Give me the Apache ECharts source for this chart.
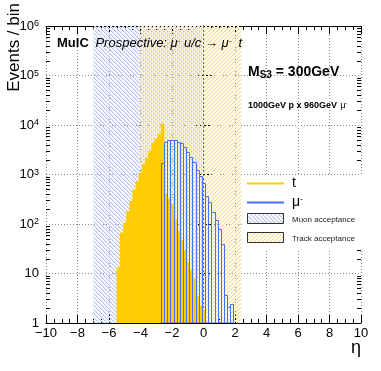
<!DOCTYPE html>
<html lang="en">
<head>
<meta charset="UTF-8">
<title>MuIC S3 eta</title>
<script src="https://cdn.jsdelivr.net/npm/echarts@6/dist/echarts.min.js"></script>
<style>
    html, body { margin: 0; padding: 0; background: #fff; }
    #main { width: 381px; height: 371px; }
</style>
</head>
<body>
<div id="main"></div>
<script>
    // histogram contents, 0.2 wide bins in eta
    var binWidth = 0.2;
    var topFirstEdge = -5.5;
    var topCounts = [13, 66, 105, 180, 290, 490, 720, 1070, 1580, 2140, 2950, 4300, 5250, 6600, 10500,
                     400, 320, 250, 125, 70, 47, 29, 17, 12, 7.8, 3.5, 2.2, 1.8];
    var muFirstEdge = -2.7;
    var muCounts = [1730, 4600, 4900, 5000, 4900, 4600, 4300, 3600, 2900, 2250, 1750, 1250,
                    950, 670, 370, 278, 174, 120, 80, 40, 3.7, 2.1, 2.4];
    // acceptance bands
    var muonAcceptance = [-7, 0];
    var trackAcceptance = [-4, 2.4];
    var xRange = [-10, 10];
    var yRange = [1, 1e6];

    var font = '"Liberation Sans", Arial, Helvetica, sans-serif';
    var yellow = '#ffcc00';
    var blue = '#4470ff';

    function bins(firstEdge, counts) {
        return counts.map(function (c, i) {
            var lo = firstEdge + i * binWidth;
            return [lo, lo + binWidth, c];
        });
    }

    function hatchPattern(dark, light, forward) {
        var p = 4;
        var c = document.createElement('canvas');
        c.width = p; c.height = p;
        var g = c.getContext('2d');
        for (var i = 0; i < p; i++) {
            var y = forward ? p - 1 - i : i;
            g.fillStyle = dark;
            g.fillRect(i, y, 1, 1);
            g.fillStyle = light;
            g.fillRect((i + 1) % p, y, 1, 1);
        }
        return c;
    }

    var muonHatch = hatchPattern('#b3c2f3', '#e2e8fa', false);
    var trackHatch = hatchPattern('#f8dd8e', '#fcf0cb', true);

    function bandItem(img) {
        return function (params, api) {
            var a = api.coord([api.value(0), yRange[1]]);
            var b = api.coord([api.value(1), yRange[0]]);
            return {
                type: 'rect',
                shape: {x: a[0], y: a[1], width: b[0] - a[0], height: b[1] - a[1]},
                style: {fill: {image: img, repeat: 'repeat'}}
            };
        };
    }

    function barItem(filled) {
        return function (params, api) {
            var a = api.coord([api.value(0), api.value(2)]);
            var b = api.coord([api.value(1), yRange[0]]);
            if (filled) {
                return {
                    type: 'rect',
                    shape: {x: a[0], y: a[1], width: b[0] - a[0], height: b[1] - a[1]},
                    style: {fill: yellow, stroke: yellow, lineWidth: 0.5}
                };
            }
            var x0 = Math.round(a[0]) + 0.5, x1 = Math.round(b[0]) + 0.5;
            return {
                type: 'rect',
                shape: {x: x0, y: Math.round(a[1]) + 0.5, width: x1 - x0, height: b[1] - Math.round(a[1]) - 0.5},
                style: {fill: 'none', stroke: blue, lineWidth: 1}
            };
        };
    }

    // minor ticks of the log axis (2..9 in each decade), left and right side
    var yMinor = [];
    for (var k = 0; k < 6; k++) {
        for (var m = 2; m < 10; m++) yMinor.push([xRange[0], m * Math.pow(10, k)]);
    }

    function minorTickItem(params, api) {
        var l = api.coord([xRange[0], api.value(1)]);
        var r = api.coord([xRange[1], api.value(1)]);
        var y = Math.round(l[1]) + 0.5;
        return {
            type: 'group',
            children: [
                {type: 'line', shape: {x1: l[0], y1: y, x2: l[0] + 4, y2: y}, style: {stroke: '#000', lineWidth: 1}},
                {type: 'line', shape: {x1: r[0], y1: y, x2: r[0] - 4, y2: y}, style: {stroke: '#000', lineWidth: 1}}
            ]
        };
    }

    var dotted = {show: true, lineStyle: {color: '#888', type: [1, 2], width: 1}};

    var chart = echarts.init(document.getElementById('main'));
    chart.setOption({
        animation: false,
        textStyle: {fontFamily: font},
        grid: {left: 46, right: 20, top: 26, bottom: 48},
        xAxis: [{
            type: 'value', min: xRange[0], max: xRange[1], interval: 2,
            axisLine: {lineStyle: {color: '#000'}},
            axisTick: {inside: true, length: 8, lineStyle: {color: '#000'}},
            minorTick: {show: true, splitNumber: 4, length: 4, lineStyle: {color: '#000'}},
            splitLine: dotted,
            axisLabel: {
                color: '#000', fontSize: 13, fontFamily: font, margin: 4,
                formatter: function (v) { return String(v).replace('-', '\u2212'); }
            }
        }, {
            type: 'value', min: xRange[0], max: xRange[1], interval: 2, position: 'top',
            axisLine: {lineStyle: {color: '#000'}},
            axisTick: {inside: true, length: 8, lineStyle: {color: '#000'}},
            minorTick: {show: true, splitNumber: 4, length: 4, lineStyle: {color: '#000'}},
            splitLine: {show: false},
            axisLabel: {show: false}
        }],
        yAxis: [{
            type: 'log', logBase: 10, min: yRange[0], max: yRange[1], splitNumber: 6,
            axisLine: {show: true, lineStyle: {color: '#000'}},
            axisTick: {show: true, inside: true, length: 8, lineStyle: {color: '#000'}},
            splitLine: dotted,
            axisLabel: {
                color: '#000', fontSize: 13, fontFamily: font, margin: 7,
                formatter: function (v) {
                    if (v === 1) return '1';
                    if (v === 10) return '10';
                    return '10{s|' + Math.round(Math.log10(v)) + '}';
                },
                rich: {s: {fontSize: 9, verticalAlign: 'top', fontFamily: font, color: '#000'}}
            }
        }, {
            type: 'log', logBase: 10, min: yRange[0], max: yRange[1], splitNumber: 6, position: 'right',
            axisLine: {show: true, lineStyle: {color: '#000'}},
            axisTick: {show: true, inside: true, length: 8, lineStyle: {color: '#000'}},
            splitLine: {show: false},
            axisLabel: {show: false}
        }],
        series: [{
            type: 'custom', name: 'Muon acceptance', renderItem: bandItem(muonHatch), clip: true,
            encode: {x: [0, 1], y: 2}, data: [[muonAcceptance[0], muonAcceptance[1], yRange[1]]], z: 1
        }, {
            type: 'custom', name: 'Track acceptance', renderItem: bandItem(trackHatch), clip: true,
            encode: {x: [0, 1], y: 2}, data: [[trackAcceptance[0], trackAcceptance[1], yRange[1]]], z: 1
        }, {
            type: 'custom', name: 't', renderItem: barItem(true), clip: true,
            encode: {x: [0, 1], y: 2}, data: bins(topFirstEdge, topCounts), z: 2
        }, {
            type: 'custom', name: 'mu', renderItem: barItem(false), clip: true,
            encode: {x: [0, 1], y: 2}, data: bins(muFirstEdge, muCounts), z: 3
        }, {
            type: 'custom', name: 'ticks', renderItem: minorTickItem, silent: true,
            encode: {x: 0, y: 1}, data: yMinor, z: 4
        }],
        graphic: [
            {type: 'text', x: 14, y: 3, rotation: Math.PI / 2,
             style: {text: 'Events / bin', font: '17px ' + font, fill: '#000', align: 'right', verticalAlign: 'middle'}},
            {type: 'text', x: 361, y: 348,
             style: {text: '\u03b7', font: '18px ' + font, fill: '#000', align: 'right', verticalAlign: 'middle'}},
            {type: 'text', x: 57, y: 43, z: 10,
             style: {
                 text: '{b|MuIC}  {i|Prospective: \u03bc}{s|-}{i| u/c \u2192 \u03bc}{s|-}{i|  t}',
                 verticalAlign: 'middle',
                 rich: {
                     b: {fontSize: 13, fontWeight: 'bold', fontFamily: font, fill: '#000'},
                     i: {fontSize: 13, fontStyle: 'italic', fontFamily: font, fill: '#000'},
                     s: {fontSize: 8, fontStyle: 'italic', fontFamily: font, fill: '#000', verticalAlign: 'top'}
                 }
             }},
            {type: 'text', x: 248, y: 72, z: 10,
             style: {
                 text: '{m|M}{u|S3}{m| = 300GeV}',
                 verticalAlign: 'middle',
                 rich: {
                     m: {fontSize: 14, fontWeight: 'bold', fontFamily: font, fill: '#000'},
                     u: {fontSize: 10, fontWeight: 'bold', fontFamily: font, fill: '#000', verticalAlign: 'bottom', padding: [6, 0, 0, 0]}
                 }
             }},
            {type: 'text', x: 248, y: 106, z: 10,
             style: {
                 text: '{b|1000GeV p x 960GeV} {n|\u03bc}{s|-}',
                 verticalAlign: 'middle',
                 rich: {
                     b: {fontSize: 9, fontWeight: 'bold', fontFamily: font, fill: '#000'},
                     n: {fontSize: 9, fontFamily: font, fill: '#000'},
                     s: {fontSize: 6, fontFamily: font, fill: '#000', verticalAlign: 'top'}
                 }
             }},
            // legend
            {type: 'rect', shape: {x: 244, y: 176, width: 118, height: 74}, style: {fill: '#fff'}, z: 10},
            {type: 'line', shape: {x1: 247, y1: 183.5, x2: 284, y2: 183.5}, style: {stroke: yellow, lineWidth: 2}, z: 11},
            {type: 'text', x: 292, y: 183, z: 11,
             style: {text: 't', font: '14px ' + font, fill: '#000', verticalAlign: 'middle'}},
            {type: 'line', shape: {x1: 247, y1: 202.5, x2: 284, y2: 202.5}, style: {stroke: blue, lineWidth: 2}, z: 11},
            {type: 'text', x: 292, y: 202, z: 11,
             style: {
                 text: '{n|\u03bc}{s|-}', verticalAlign: 'middle',
                 rich: {n: {fontSize: 14, fontFamily: font, fill: '#000'}, s: {fontSize: 8, fontFamily: font, fill: '#000', verticalAlign: 'top'}}
             }},
            {type: 'rect', shape: {x: 247.5, y: 213.5, width: 36, height: 10}, z: 11,
             style: {fill: {image: muonHatch, repeat: 'repeat'}, stroke: '#333', lineWidth: 1}},
            {type: 'text', x: 292, y: 220, z: 11,
             style: {text: 'Muon acceptance', font: '8px ' + font, fill: '#222', verticalAlign: 'middle'}},
            {type: 'rect', shape: {x: 247.5, y: 232.5, width: 36, height: 10}, z: 11,
             style: {fill: {image: trackHatch, repeat: 'repeat'}, stroke: '#333', lineWidth: 1}},
            {type: 'text', x: 292, y: 239, z: 11,
             style: {text: 'Track acceptance', font: '8px ' + font, fill: '#222', verticalAlign: 'middle'}}
        ]
    });
</script>
</body>
</html>
